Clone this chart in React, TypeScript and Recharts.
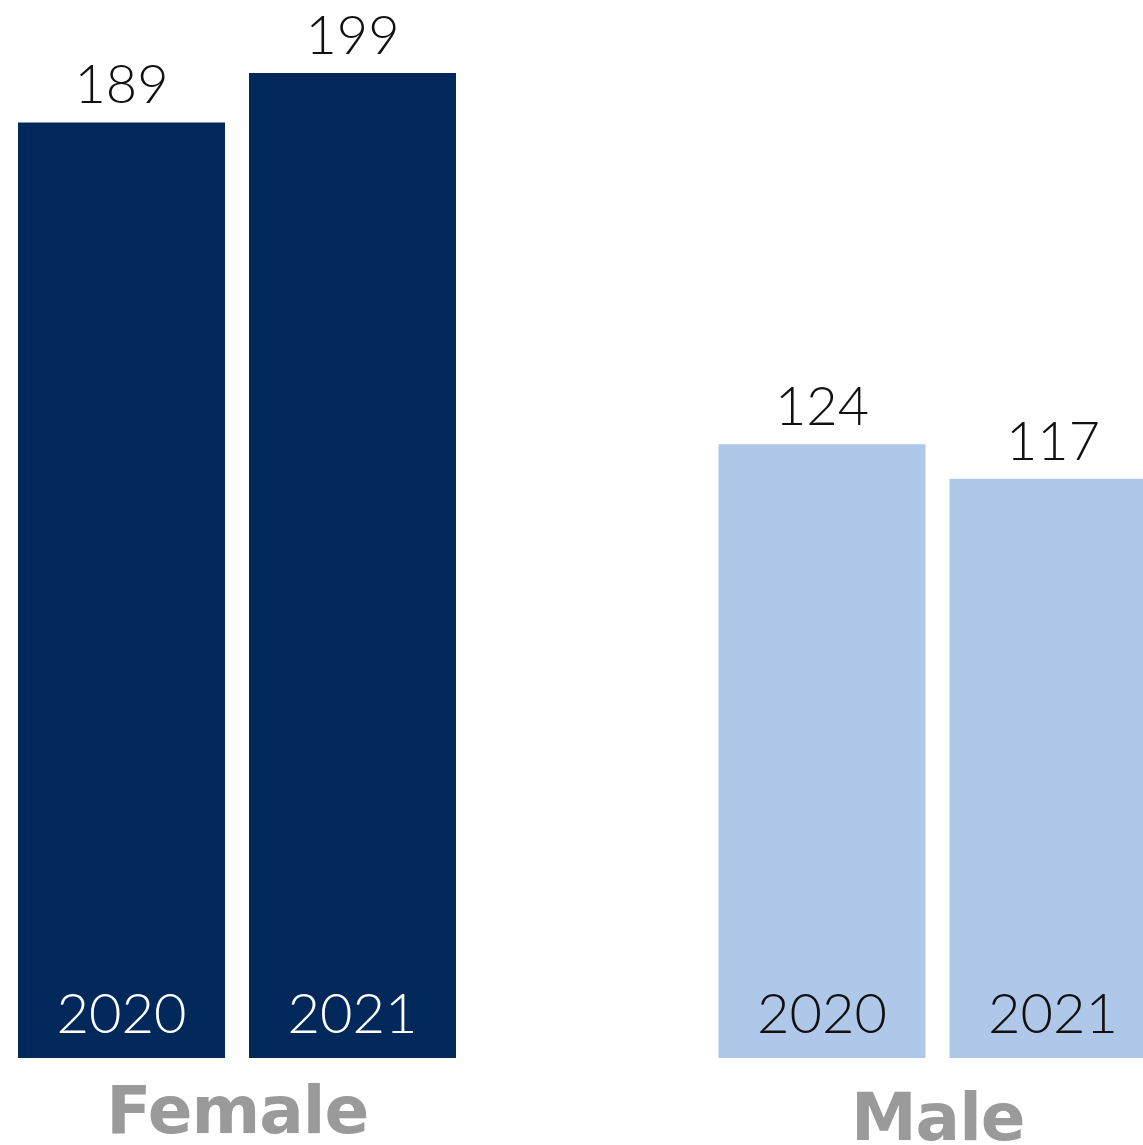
import React from "react";
import { BarChart, Bar, XAxis, YAxis, Cell, LabelList } from "recharts";

const categories = ["Female", "Male"];
const values2020 = [189, 124];
const values2021 = [199, 117];
const yearLabels = ["2020", "2021"];
const groupColors = ["#00285A", "#AFC8E9"];
const yearTextColors = ["#FFFFFF", "#111111"];

const data = categories.map((c, i) => ({
  category: c,
  y2020: values2020[i],
  y2021: values2021[i],
}));

const numFont = "Lato, 'Open Sans', sans-serif";

const ValueLabel = (props: any) => {
  const { x, y, width, value } = props;
  return (
    <text x={x + width / 2} y={y - 19} textAnchor="middle" fontFamily={numFont} fontWeight={300} fontSize={54} fill="#111">
      {value}
    </text>
  );
};

const makeYearLabel = (year: string) => (props: any) => {
  const { x, y, width, height, index } = props;
  return (
    <text x={x + width / 2} y={y + height - 25} textAnchor="middle" fontFamily={numFont} fontWeight={300} fontSize={56} fill={yearTextColors[index]}>
      {year}
    </text>
  );
};

const CategoryTick = (props: any) => {
  const { x, payload, index } = props;
  // plot bottom sits at y = 1058
  const baseline = index === 1 ? 1140 : 1133;
  return (
    <text x={x} y={baseline} textAnchor="middle" fontFamily="'DejaVu Sans', sans-serif" fontWeight={700} fontSize={66} letterSpacing={-1} fill="#9A9A9A">
      {payload.value}
    </text>
  );
};

export default function App() {
  return (
    <div style={{ position: "fixed", left: 0, top: 0, width: 1143, height: 1145, overflow: "hidden", background: "#fff" }}>
      <div style={{ position: "absolute", left: -113, top: 0 }}>
        <BarChart width={1401} height={1160} data={data} margin={{ top: 68, right: 0, bottom: 0, left: 0 }} barSize={207} barGap={24}>
          <YAxis hide domain={[0, 200]} />
          <XAxis dataKey="category" axisLine={false} tickLine={false} height={102} tick={<CategoryTick />} interval={0} />
          <Bar dataKey="y2020" isAnimationActive={false}>
            {data.map((d, i) => (
              <Cell key={d.category} fill={groupColors[i]} />
            ))}
            <LabelList dataKey="y2020" content={<ValueLabel />} />
            <LabelList dataKey="y2020" content={makeYearLabel(yearLabels[0])} />
          </Bar>
          <Bar dataKey="y2021" isAnimationActive={false}>
            {data.map((d, i) => (
              <Cell key={d.category} fill={groupColors[i]} />
            ))}
            <LabelList dataKey="y2021" content={<ValueLabel />} />
            <LabelList dataKey="y2021" content={makeYearLabel(yearLabels[1])} />
          </Bar>
        </BarChart>
      </div>
    </div>
  );
}
